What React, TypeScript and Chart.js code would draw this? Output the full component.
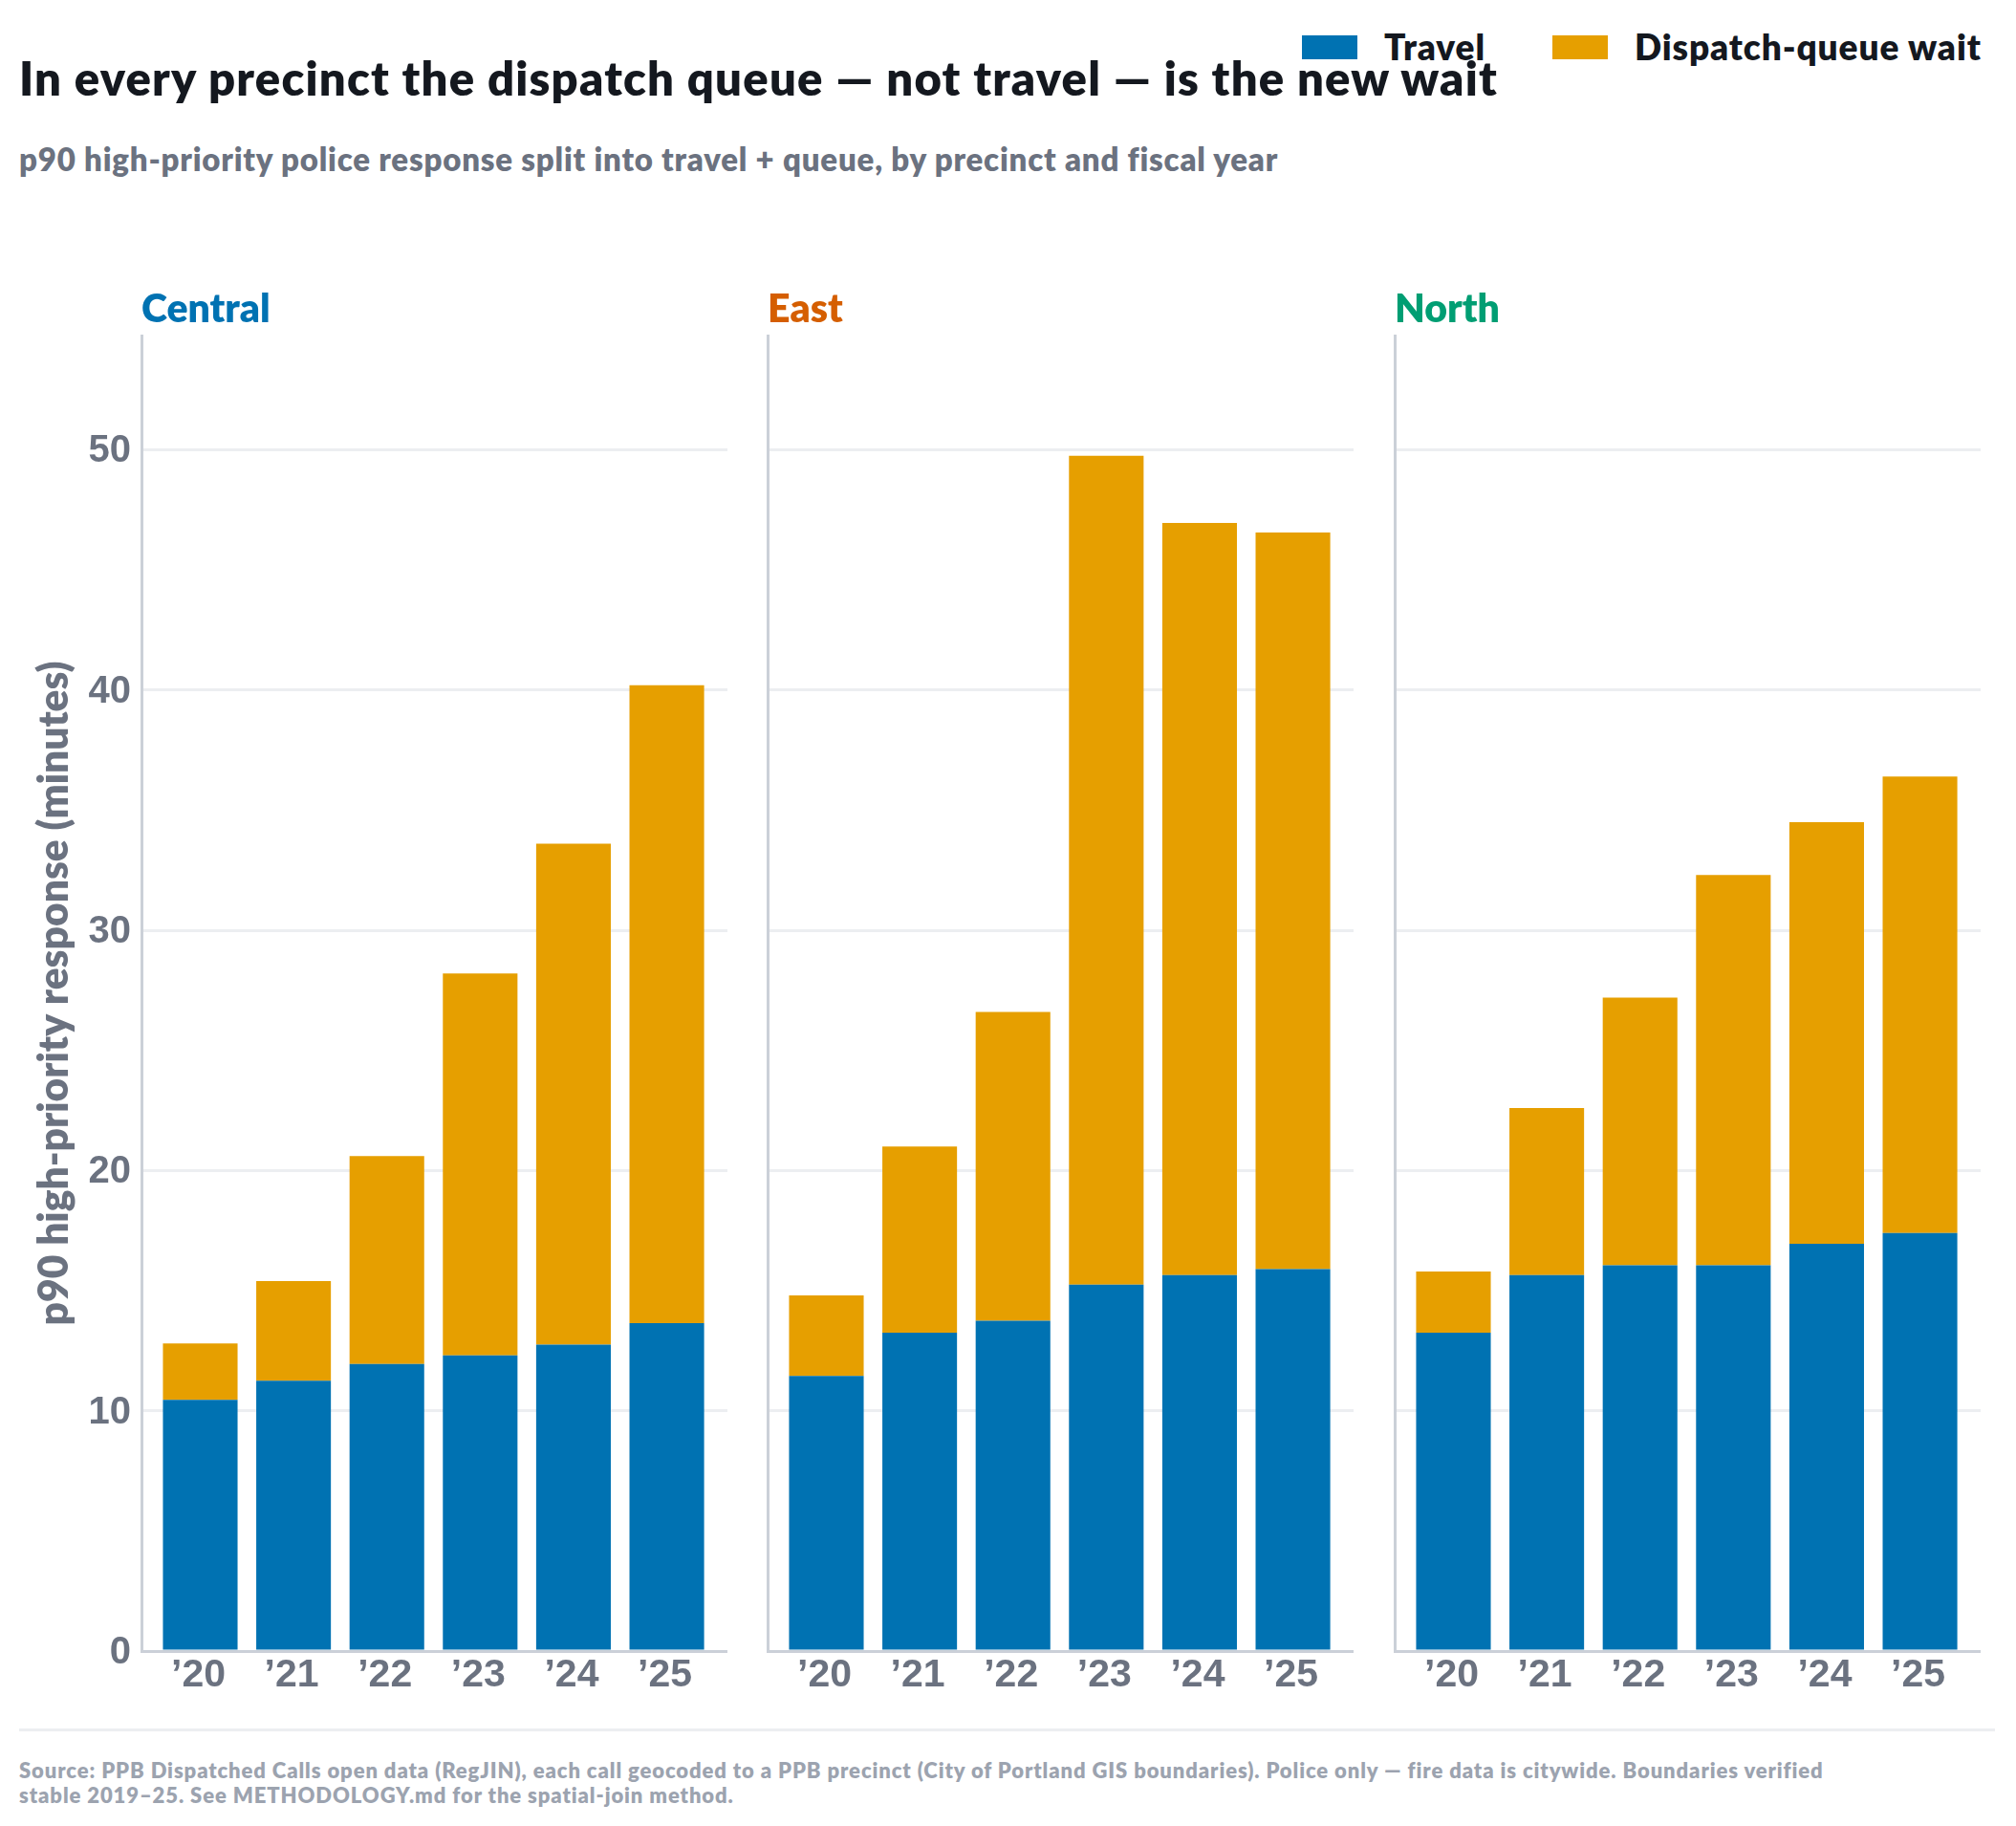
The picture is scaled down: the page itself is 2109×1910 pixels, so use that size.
import React, { useEffect, useRef } from 'react';
import { Chart, registerables } from 'chart.js';

Chart.register(...registerables);

const years = ['’20', '’21', '’22', '’23', '’24', '’25'];
const yTicks = [0, 10, 20, 30, 40, 50];
const precincts = ['Central', 'East', 'North'];
const precinctColors = ['#0072B2', '#D55E00', '#009E73'];

const centralTravel = [10.45, 11.25, 11.95, 12.3, 12.75, 13.65];
const centralQueue = [2.35, 4.15, 8.65, 15.9, 20.85, 26.55];
const eastTravel = [11.45, 13.25, 13.75, 15.25, 15.65, 15.9];
const eastQueue = [3.35, 7.75, 12.85, 34.5, 31.3, 30.65];
const northTravel = [13.25, 15.65, 16.05, 16.05, 16.95, 17.4];
const northQueue = [2.55, 6.95, 11.15, 16.25, 17.55, 19.0];

const travelByPanel = [centralTravel, eastTravel, northTravel];
const queueByPanel = [centralQueue, eastQueue, northQueue];

const TRAVEL = '#0072B2';
const QUEUE = '#E69F00';
const SPINE = '#CBD0D8';
const GRID = '#ECEEF1';
const TICK = '#6B7280';
const INK = '#14181F';
const SANS = 'Lato, sans-serif';
const TICK_FONT = '"Liberation Sans", Arial, sans-serif';

const panelLefts = [148, 803, 1459];
const panelWidth = 613;
const yMax = 54.75;
const canvasTop = 281;
const titleBlock = 70;
const areaHeight = 1376;
const xAxisHeight = 72;

const Panel: React.FC<{ index: number }> = ({ index }) => {
  const canvasRef = useRef<HTMLCanvasElement | null>(null);
  const first = index === 0;
  const leftGutter = first ? panelLefts[0] : 20;
  const width = leftGutter + panelWidth;
  const height = titleBlock + areaHeight + xAxisHeight;

  useEffect(() => {
    if (!canvasRef.current) return;
    const chart = new Chart(canvasRef.current, {
      type: 'bar',
      data: {
        datasets: [
          {
            label: 'Travel',
            data: travelByPanel[index].map((y, x) => ({ x, y })),
            backgroundColor: TRAVEL,
            barPercentage: 0.8,
            categoryPercentage: 1,
          },
          {
            label: 'Dispatch-queue wait',
            data: queueByPanel[index].map((y, x) => ({ x, y })),
            backgroundColor: QUEUE,
            barPercentage: 0.8,
            categoryPercentage: 1,
          },
        ],
      },
      options: {
        responsive: false,
        animation: false,
        devicePixelRatio: 1,
        plugins: {
          legend: { display: false },
          tooltip: { enabled: false },
          title: {
            display: true,
            text: precincts[index],
            align: 'start',
            fullSize: false,
            color: precinctColors[index],
            font: { family: SANS, size: 41, weight: 800, lineHeight: 1.2 },
            padding: { top: 18.5, bottom: 2.3 },
          },
        },
        scales: {
          x: {
            type: 'linear',
            stacked: true,
            offset: false,
            min: -0.63,
            max: 5.65,
            grid: { display: false, drawTicks: false, offset: false },
            border: { display: true, color: SPINE, width: 3, z: 1 },
            afterFit: (scale: any) => {
              scale.height = xAxisHeight;
            },
            ticks: {
              stepSize: 1,
              includeBounds: false,
              autoSkip: false,
              maxRotation: 0,
              padding: 1,
              labelOffset: -2,
              color: TICK,
              font: { family: TICK_FONT, size: 41, weight: 'bold' },
              callback: (v: any) => years[v] ?? '',
            },
          },
          y: {
            stacked: true,
            min: 0,
            max: yMax,
            grid: { color: GRID, lineWidth: 3, drawTicks: false },
            border: { display: true, color: SPINE, width: 3 },
            afterFit: (scale: any) => {
              scale.width = leftGutter;
            },
            title: {
              display: first,
              text: 'p90 high-priority response (minutes)',
              color: TICK,
              font: { family: SANS, size: 42.5, weight: 800, lineHeight: 1.2 },
              padding: { top: 32, bottom: 0 },
            },
            ticks: {
              display: first,
              stepSize: 10,
              includeBounds: false,
              padding: 11,
              labelOffset: 2,
              color: TICK,
              font: { family: TICK_FONT, size: 40, weight: 'bold' },
              callback: (v: any) => (yTicks.includes(v) ? String(v) : ''),
            },
          },
        },
      },
    });
    return () => {
      chart.destroy();
    };
  }, [index]);

  return (
    <canvas
      ref={canvasRef}
      width={width}
      height={height}
      style={{ position: 'absolute', left: panelLefts[index] - leftGutter, top: canvasTop, width, height }}
    />
  );
};

const text = (x: number, y: number, size: number, color: string, spacing: number, weight = 800): React.CSSProperties => ({
  position: 'absolute',
  left: x,
  top: y,
  fontFamily: SANS,
  fontSize: size,
  fontWeight: weight,
  letterSpacing: spacing,
  color,
  lineHeight: 1.2,
  whiteSpace: 'nowrap',
});

const swatch = (x: number, color: string): React.CSSProperties => ({
  position: 'absolute',
  left: x,
  top: 37,
  width: 58,
  height: 25,
  background: color,
});

export default function App() {
  return (
    <div style={{ position: 'absolute', left: 0, top: 0, width: 2109, height: 1910, background: '#fff', overflow: 'hidden' }}>
      <div style={text(20, 52, 49, INK, 1.22)}>In every precinct the dispatch queue — not travel — is the new wait</div>
      <div style={text(20, 147, 33, TICK, 0.8)}>p90 high-priority police response split into travel + queue, by precinct and fiscal year</div>

      <div style={swatch(1362, TRAVEL)} />
      <div style={text(1448, 27, 37, INK, 0.9)}>Travel</div>
      <div style={swatch(1624, QUEUE)} />
      <div style={text(1710, 27, 37, INK, 0.9)}>Dispatch-queue wait</div>

      {precincts.map((_, i) => (
        <Panel key={i} index={i} />
      ))}

      <div style={{ position: 'absolute', left: 20, top: 1808, width: 2067, height: 3, background: GRID }} />
      <div style={{ ...text(20, 1839, 22, '#9CA3AF', 0.905), lineHeight: '26px' }}>
        Source: PPB Dispatched Calls open data (RegJIN), each call geocoded to a PPB precinct (City of Portland GIS boundaries). Police only — fire data is citywide. Boundaries verified
        <br />
        stable 2019–25. See METHODOLOGY.md for the spatial-join method.
      </div>
    </div>
  );
}
